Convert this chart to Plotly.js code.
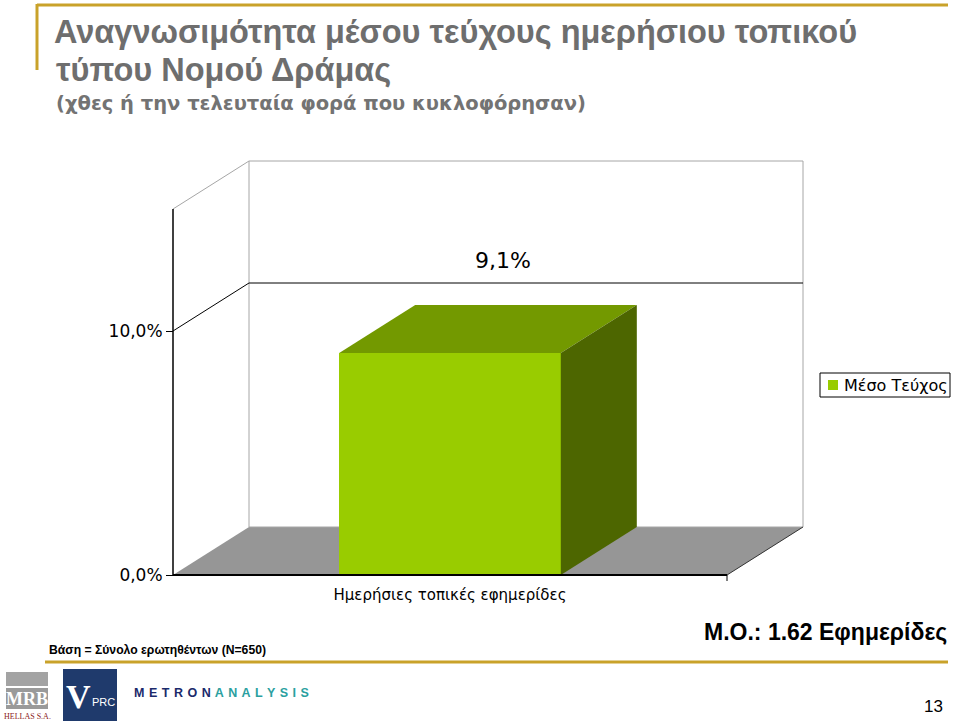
<!DOCTYPE html>
<html>
<head>
<meta charset="utf-8">
<script src="https://cdn.plot.ly/plotly-3.0.1.min.js"></script>
<style>
html,body{margin:0;padding:0;background:#fff;overflow:hidden;}
#chart{width:960px;height:723px;overflow:hidden;}
</style>
</head>
<body>
<div id="chart"></div>
<script>
// ---- data ----
const categories = ['Ημερήσιες τοπικές εφημερίδες'];
const values = [9.1];
const valueLabels = ['9,1%'];
const seriesName = 'Μέσο Τεύχος';
const yTickVals = [0, 10];
const yTickText = ['0,0%', '10,0%'];
const gridVals = [10];
const axisMax = 15;

// ---- geometry (pixels) ----
const W = 960, H = 723;
const L = 168, R = 806, T = 155, B = 584;       // plot area
const FX0 = 173, FX1 = 727;                    // front plane left/right
const Y0PX = 575, Y10PX = 331;                 // 0% and 10% on front plane
const pxPerX = (FX1 - FX0);                    // one category = 1 unit
const pxPerY = (Y0PX - Y10PX) / 10;
const DX = 76 / pxPerX, DY = 48 / pxPerY;      // 3D depth offset
const barWidth = 0.4;

const xRange = [-0.5 - (FX0 - L) / pxPerX, 0.5 + (R - FX1) / pxPerX];
const yRange = [-(B - Y0PX) / pxPerY, (Y0PX - T) / pxPerY];
const px = x => (x - L) / (R - L);
const py = y => (B - y) / (B - T);

const xs = categories.map((c, i) => i);
const barColor = '#99cc00';

// ---- shapes ----
const shapes = [];
// floor
shapes.push({type:'path', xref:'x', yref:'y', layer:'below',
  path:`M ${-0.5},0 L ${0.5},0 L ${0.5+DX},${DY} L ${-0.5+DX},${DY} Z`,
  fillcolor:'#969696', line:{width:0}});
// back wall
shapes.push({type:'rect', xref:'x', yref:'y', layer:'below',
  x0:-0.5+DX, x1:0.5+DX, y0:DY, y1:axisMax+DY,
  fillcolor:'rgba(0,0,0,0)', line:{color:'#a6a6a6', width:1}});
// side wall top edge
shapes.push({type:'line', xref:'x', yref:'y', layer:'below',
  x0:-0.5, y0:axisMax, x1:-0.5+DX, y1:axisMax+DY, line:{color:'#a6a6a6', width:1}});
// gridlines
gridVals.forEach(g => {
  shapes.push({type:'line', xref:'x', yref:'y', layer:'below',
    x0:-0.5+DX, y0:g+DY, x1:0.5+DX, y1:g+DY, line:{color:'#000', width:1}});
  shapes.push({type:'line', xref:'x', yref:'y', layer:'below',
    x0:-0.5, y0:g, x1:-0.5+DX, y1:g+DY, line:{color:'#000', width:1}});
});
// floor right edge
shapes.push({type:'line', xref:'x', yref:'y', layer:'below',
  x0:0.5, y0:0, x1:0.5+DX, y1:DY, line:{color:'#333', width:1}});
// bar 3D faces
xs.forEach((x, i) => {
  const v = values[i], a = x - barWidth/2, b = x + barWidth/2;
  shapes.push({type:'path', xref:'x', yref:'y', layer:'above',
    path:`M ${a},${v} L ${b},${v} L ${b+DX},${v+DY} L ${a+DX},${v+DY} Z`,
    fillcolor:'#739900', line:{width:0}});
  shapes.push({type:'path', xref:'x', yref:'y', layer:'above',
    path:`M ${b},0 L ${b+DX},${DY} L ${b+DX},${v+DY} L ${b},${v} Z`,
    fillcolor:'#4d6600', line:{width:0}});
});
// front axes
shapes.push({type:'line', xref:'x', yref:'y', layer:'above',
  x0:-0.5, y0:0, x1:-0.5, y1:axisMax, line:{color:'#000', width:1.5}});
shapes.push({type:'line', xref:'x', yref:'y', layer:'above',
  x0:-0.5, y0:0, x1:0.5, y1:0, line:{color:'#000', width:2}});
shapes.push({type:'line', xref:'x', yref:'y', layer:'above',
  x0:0.5, y0:0, x1:0.5, y1:-6/pxPerY, line:{color:'#000', width:1}});

// legend (drawn box)
shapes.push({type:'rect', xref:'paper', yref:'paper', x0:px(820), x1:px(950), y0:py(373), y1:py(397),
  fillcolor:'#fff', line:{color:'#000', width:1}});
shapes.push({type:'rect', xref:'paper', yref:'paper', x0:px(828), x1:px(838), y0:py(380), y1:py(390),
  fillcolor:barColor, line:{width:0}});

// page decoration (gold lines, logos)
const gold = '#c9a22a';
shapes.push({type:'line', xref:'paper', yref:'paper', x0:px(37), x1:px(948), y0:py(5), y1:py(5), line:{color:gold, width:3}});
shapes.push({type:'line', xref:'paper', yref:'paper', x0:px(37), x1:px(37), y0:py(4), y1:py(70), line:{color:gold, width:3}});
shapes.push({type:'line', xref:'paper', yref:'paper', x0:px(45), x1:px(948), y0:py(662), y1:py(662), line:{color:gold, width:3}});
// MRB logo
shapes.push({type:'rect', xref:'paper', yref:'paper', x0:px(6), x1:px(48), y0:py(672), y1:py(686), fillcolor:'#a3a3a3', line:{width:0}});
shapes.push({type:'rect', xref:'paper', yref:'paper', x0:px(6), x1:px(48), y0:py(688), y1:py(709), fillcolor:'#9a9a9a', line:{width:0}});
// VPRC logo
shapes.push({type:'rect', xref:'paper', yref:'paper', x0:px(63), x1:px(117), y0:py(669), y1:py(721), fillcolor:'#1f3a6c', line:{width:0}});

// ---- annotations ----
const annotations = [];
xs.forEach((x, i) => {
  annotations.push({xref:'x', yref:'y', x:x + DX*0.7, y:values[i] + DY, yshift:44,
    text:valueLabels[i], showarrow:false, xanchor:'center', yanchor:'middle',
    font:{family:'DejaVu Sans, Verdana', size:22, color:'#000'}});
});
annotations.push({xref:'paper', yref:'paper', x:px(842), y:py(385), xanchor:'left', yanchor:'middle',
  text:seriesName, showarrow:false,
  font:{family:'DejaVu Sans, Verdana', size:16, color:'#000'}});
annotations.push({xref:'paper', yref:'paper', x:px(54), y:py(70), xanchor:'left', yanchor:'middle',
  text:'τύπου Νομού Δράμας', showarrow:false,
  font:{family:'Liberation Sans, Arial', size:32.5, color:'#6e6e6e', weight:'bold'}});
annotations.push({xref:'paper', yref:'paper', x:px(54), y:py(103), xanchor:'left', yanchor:'middle',
  text:'(χθες ή την τελευταία φορά που κυκλοφόρησαν)', showarrow:false,
  font:{family:'DejaVu Sans, Verdana', size:19.5, color:'#737373', weight:'bold'}});
annotations.push({xref:'paper', yref:'paper', x:px(47), y:py(650), xanchor:'left', yanchor:'middle',
  text:'Βάση = Σύνολο ερωτηθέντων (Ν=650)', showarrow:false,
  font:{family:'Liberation Sans Narrow, Liberation Sans, Arial', size:12.2, color:'#000', weight:'bold'}});
annotations.push({xref:'paper', yref:'paper', x:px(949), y:py(632), xanchor:'right', yanchor:'middle',
  text:'Μ.Ο.: 1.62 Εφημερίδες', showarrow:false,
  font:{family:'Liberation Sans, Arial', size:23, color:'#000', weight:'bold'}});
annotations.push({xref:'paper', yref:'paper', x:px(945), y:py(706), xanchor:'right', yanchor:'middle',
  text:'13', showarrow:false,
  font:{family:'Liberation Sans, Arial', size:17, color:'#000'}});
annotations.push({xref:'paper', yref:'paper', x:px(27), y:py(699), xanchor:'center', yanchor:'middle',
  text:'MRB', showarrow:false,
  font:{family:'Liberation Serif, Times New Roman', size:18, color:'#fff', weight:'bold'}});
annotations.push({xref:'paper', yref:'paper', x:px(27), y:py(716), xanchor:'center', yanchor:'middle',
  text:'HELLAS S.A.', showarrow:false,
  font:{family:'Liberation Serif, Times New Roman', size:8, color:'#8b2020'}});
annotations.push({xref:'paper', yref:'paper', x:px(92), y:py(696), xanchor:'right', yanchor:'middle',
  text:'V', showarrow:false, borderpad:0,
  font:{family:'Liberation Serif, Times New Roman', size:34, color:'#fff', weight:'bold'}});
annotations.push({xref:'paper', yref:'paper', x:px(91), y:py(702), xanchor:'left', yanchor:'middle',
  text:'PRC', showarrow:false, borderpad:0,
  font:{family:'Liberation Sans Narrow, Liberation Sans, Arial', size:11, color:'#fff'}});
annotations.push({xref:'paper', yref:'paper', x:px(132), y:py(693), xanchor:'left', yanchor:'middle',
  text:'<span style="color:#1b2a6b">M\u200a E\u200a T\u200a R\u200a O\u200a N\u200a </span><span style="color:#2aa0a0">A\u200a N\u200a A\u200a L\u200a Y\u200a S\u200a I\u200a S</span>', showarrow:false,
  font:{family:'Liberation Sans, Arial', size:12.5, weight:'bold'}});

// ---- traces ----
const traces = [{
  type:'bar', x:xs, y:values, width:barWidth, name:seriesName,
  marker:{color:barColor, line:{width:0}}, hoverinfo:'skip', showlegend:false
}];

const layout = {
  width:W, height:H,
  margin:{l:L, r:W-R, t:T, b:H-B, pad:0},
  paper_bgcolor:'#fff', plot_bgcolor:'rgba(0,0,0,0)',
  title:{
    text:'Αναγνωσιμότητα μέσου τεύχους ημερήσιου τοπικού',
    xref:'container', yref:'container', x:54/W, y:1-32/H, xanchor:'left', yanchor:'middle',
    font:{family:'Liberation Sans, Arial', size:32.5, color:'#6e6e6e', weight:'bold'}
  },
  xaxis:{
    type:'linear', range:xRange, fixedrange:true, automargin:false,
    tickvals:xs, ticktext:categories, ticks:'', showline:false, showgrid:false, zeroline:false,
    tickfont:{family:'DejaVu Sans, Verdana', size:15, color:'#000'}
  },
  yaxis:{
    type:'linear', range:yRange, fixedrange:true, automargin:false,
    anchor:'free', position:(FX0 - L)/(R - L), side:'left',
    tickvals:yTickVals, ticktext:yTickText, ticks:'outside', ticklen:7, tickwidth:1, tickcolor:'#000',
    showline:false, showgrid:false, zeroline:false,
    tickfont:{family:'DejaVu Sans, Verdana', size:17, color:'#000'}
  },
  showlegend:false,
  shapes:shapes,
  annotations:annotations,
  bargap:0
};

Plotly.newPlot('chart', traces, layout, {staticPlot:true, displayModeBar:false});
</script>
</body>
</html>
